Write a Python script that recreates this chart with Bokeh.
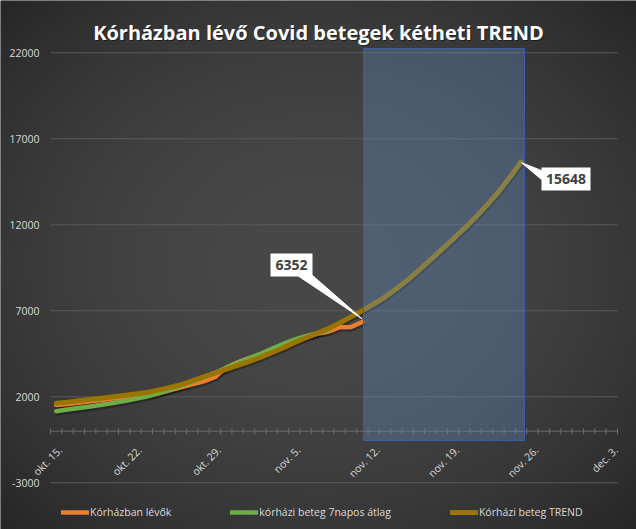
import math
import numpy as np
from bokeh.plotting import figure
from bokeh.models import Legend, LegendItem, Range1d
from bokeh.core.properties import value
from bokeh.embed import file_html
from bokeh.resources import INLINE

# ---- data ----
day_labels = ([f"okt. {d}." for d in range(15, 32)] +
              [f"nov. {d}." for d in range(1, 31)] +
              [f"dec. {d}." for d in range(1, 4)])

hospital = [1520, 1580, 1660, 1740, 1820, 1900, 1980, 2040, 2110, 2200,
            2380, 2550, 2720, 2900, 3150, 3700, 4000, 4250, 4450, 4720,
            4950, 5250, 5500, 5660, 5780, 6050, 6060, 6352]

avg7 = [1160, 1260, 1350, 1440, 1540, 1640, 1760, 1880, 2020, 2200,
        2400, 2620, 2860, 3120, 3400, 3680, 3960, 4230, 4500, 4790,
        5060, 5320, 5530, 5700, 5850]

trend = [1620, 1690, 1770, 1850, 1920, 2000, 2080, 2160, 2250, 2390,
         2540, 2700, 2930, 3160, 3380, 3600, 3820, 4050, 4290, 4560,
         4840, 5150, 5420, 5690, 5960, 6290, 6650, 7010, 7390, 7800,
         8280, 8800, 9370, 9960, 10560, 11170, 11790, 12450, 13150, 13900,
         14750, 15648]

y_ticks = [-3000, 2000, 7000, 12000, 17000, 22000]
x_tick_step = 7
series_names = ["Kórházban lévők", "kórházi beteg 7napos átlag", "Kórházi beteg TREND"]
title_text = "Kórházban lévő Covid betegek kétheti TREND"

# ---- layout helpers (pixel -> data for placement of decorations) ----
W, H = 636, 529
n = len(day_labels)
PX_L, PX_R = 50.0, 617.0          # plot area left/right in pixels
PY_TOP_TICK, KY = 52.3, 0.0172     # pixel of top tick (22000) and px per unit
CW = (PX_R - PX_L) / n             # category width in px


def X(px):
    return -0.5 + (px - PX_L) / CW


def Y(py):
    return y_ticks[-1] - (py - PY_TOP_TICK) / KY


p = figure(width=W, height=H, output_backend="svg", toolbar_location=None,
           x_range=Range1d(X(0), X(W)), y_range=Range1d(Y(H), Y(0)),
           x_axis_location=None, y_axis_location=None, min_border=0)
p.min_border_left = p.min_border_right = p.min_border_top = p.min_border_bottom = 0
p.outline_line_color = None
p.background_fill_color = "#3a3a3a"
p.border_fill_color = "#3a3a3a"

# radial-ish dark background
gh, gw = 132, 159
yy, xx = np.mgrid[0:gh, 0:gw]
r2 = ((xx + 0.5) / gw * 2 - 1) ** 2 + ((yy + 0.5) / gh * 2 - 1) ** 2
c = np.clip(72 - 17 * r2, 30, 80).astype(np.uint8)
img = np.zeros((gh, gw), dtype=np.uint32)
view = img.view(dtype=np.uint8).reshape((gh, gw, 4))
view[:, :, 0] = c
view[:, :, 1] = c
view[:, :, 2] = c
view[:, :, 3] = 255
p.image_rgba(image=[img], x=X(0), y=Y(H), dw=X(W) - X(0), dh=Y(0) - Y(H))

# title (with soft shadow)
p.text(x=[X(W / 2 + 1)], y=[Y(32.5)], text=[title_text], text_align="center",
       text_baseline="alphabetic", text_font=value("Open Sans"), text_font_style="bold",
       text_font_size="20px", text_color="#000000", text_alpha=0.45)
p.text(x=[X(W / 2)], y=[Y(31.5)], text=[title_text], text_align="center",
       text_baseline="alphabetic", text_font=value("Open Sans"), text_font_style="bold",
       text_font_size="20px", text_color="#ffffff")

# horizontal gridlines + value labels
p.segment(x0=[X(PX_L)] * len(y_ticks), y0=y_ticks, x1=[X(PX_R)] * len(y_ticks), y1=y_ticks,
          line_color="#5a5a5a", line_width=1)
p.text(x=[X(39)] * len(y_ticks), y=y_ticks, text=[str(t) for t in y_ticks],
       text_align="right", text_baseline="middle", text_font=value("Open Sans"),
       text_font_size="10.5px", text_color="#d9d9d9")

# category axis at y = 0
p.segment(x0=[-0.5], y0=[0], x1=[n - 0.5], y1=[0], line_color="#6a6a6a", line_width=1)
bounds = [i - 0.5 for i in range(n + 1)]
p.segment(x0=bounds, y0=[-175] * len(bounds), x1=bounds, y1=[175] * len(bounds),
          line_color="#6a6a6a", line_width=1)
tick_idx = list(range(0, n, x_tick_step))
p.text(x=tick_idx, y=[0] * len(tick_idx), text=[day_labels[i] for i in tick_idx],
       angle=math.pi / 4, text_align="right", text_baseline="middle",
       x_offset=4, y_offset=17, text_font=value("Open Sans"), text_font_size="10.5px",
       text_color="#d9d9d9")

# soft drop shadows under the series (offset a couple of pixels down/right)
sdx, sdy = 1.0 / CW, -2.0 / KY
for ys in (hospital, avg7, trend):
    p.line([i + sdx for i in range(len(ys))], [v + sdy for v in ys], line_color="#000000",
           line_alpha=0.3, line_width=5, line_cap="round", line_join="round")

# series
r1 = p.line(list(range(len(hospital))), hospital, line_color="#ED7D31", line_width=4.5,
            line_cap="round", line_join="round")
r2 = p.line(list(range(len(avg7))), avg7, line_color="#70AD47", line_width=4.5,
            line_cap="round", line_join="round")
r3 = p.line(list(range(len(trend))), trend, line_color="#997500", line_width=5,
            line_cap="round", line_join="round")

# two-week highlight band
band_left = len(hospital) - 1 + 0.1
band_right = len(trend) - 1 + 0.3
p.quad(left=[band_left], right=[band_right], bottom=[Y(440)], top=[Y(48)],
       fill_color="#6a98dc", fill_alpha=0.3, line_color="#3a5ea8", line_width=1)

# callouts
i_h = len(hospital) - 1
i_t = len(trend) - 1
p.patch([X(297), X(312), i_h - 0.02], [Y(275), Y(275), hospital[-1] + 180],
        fill_color="white", line_color="white", line_width=1)
p.quad(left=[X(270)], right=[X(312)], bottom=[Y(276)], top=[Y(253)],
       fill_color="white", line_color=None)
p.text(x=[X(291)], y=[Y(264.5)], text=[str(hospital[-1])], text_align="center",
       text_baseline="middle", text_font=value("Open Sans"), text_font_style="bold",
       text_font_size="14px", text_color="#404040")

p.patch([X(541), X(541), i_t + 0.05], [Y(170), Y(179), trend[-1] - 40],
        fill_color="white", line_color="white", line_width=1)
p.quad(left=[X(541)], right=[X(590)], bottom=[Y(190)], top=[Y(167)],
       fill_color="white", line_color=None)
p.text(x=[X(565.5)], y=[Y(178.5)], text=[str(trend[-1])], text_align="center",
       text_baseline="middle", text_font=value("Open Sans"), text_font_style="bold",
       text_font_size="14px", text_color="#404040")

legend = Legend(items=[LegendItem(label=series_names[0], renderers=[r1]),
                       LegendItem(label=series_names[1], renderers=[r2]),
                       LegendItem(label=series_names[2], renderers=[r3])],
                orientation="horizontal", location=(61, 10), padding=0, margin=0,
                spacing=59, glyph_width=28, glyph_height=12, label_height=12,
                label_standoff=1, label_text_font="Open Sans", label_text_font_size="10.5px",
                label_text_color="#d9d9d9", background_fill_alpha=0, border_line_alpha=0)
p.add_layout(legend)

open("out.html", "w").write(file_html(p, INLINE))
